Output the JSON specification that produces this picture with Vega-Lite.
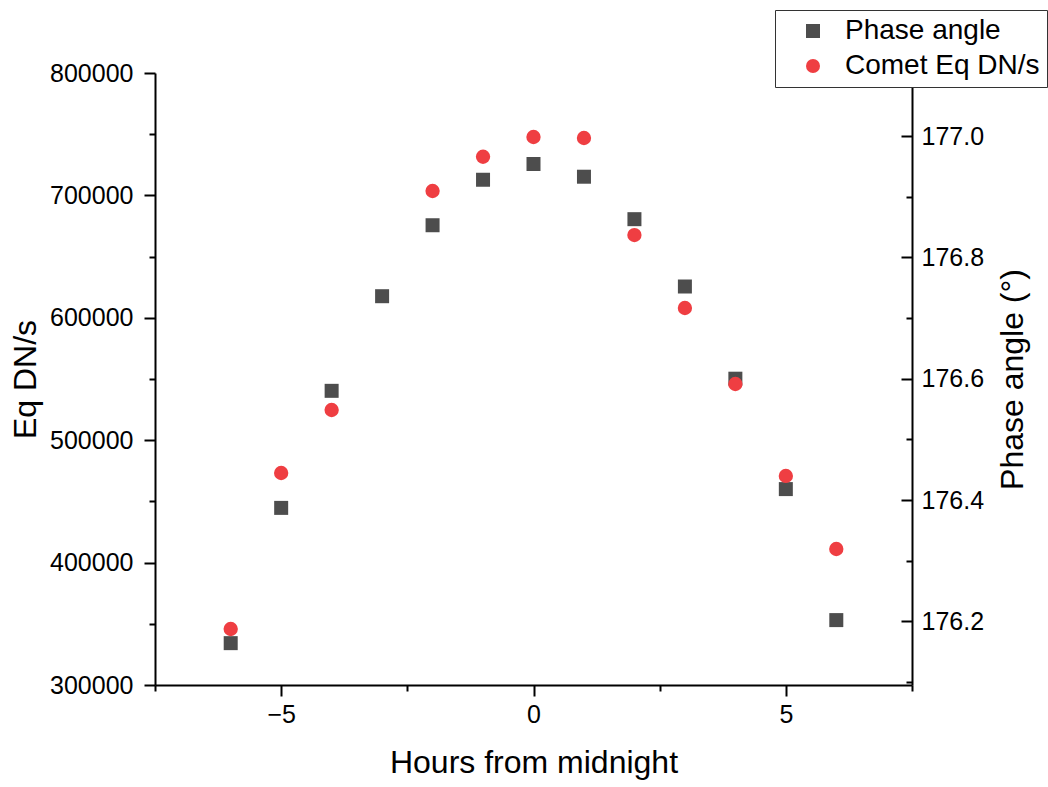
{
  "$schema": "https://vega.github.io/schema/vega-lite/v6.json",
  "width": 757,
  "height": 612,
  "autosize": {"type": "none"},
  "padding": {"left": 155, "top": 73, "right": 136, "bottom": 102},
  "background": "white",
  "config": {
    "view": {"stroke": null},
    "font": "Liberation Sans",
    "axis": {
      "grid": false,
      "domainColor": "black",
      "domainWidth": 2,
      "tickColor": "black",
      "tickWidth": 2,
      "labelColor": "black",
      "labelFont": "Liberation Sans",
      "labelFontSize": 25,
      "titleFont": "Liberation Sans",
      "titleFontSize": 32,
      "titleFontWeight": "normal",
      "titleColor": "black"
    }
  },
  "data": {
    "values": [
      {"hour": -6, "phase": 176.164, "eq": 345750},
      {"hour": -5, "phase": 176.387, "eq": 473200},
      {"hour": -4, "phase": 176.580, "eq": 524700},
      {"hour": -3, "phase": 176.736, "eq": null},
      {"hour": -2, "phase": 176.853, "eq": 703600},
      {"hour": -1, "phase": 176.928, "eq": 731600},
      {"hour": 0, "phase": 176.954, "eq": 747700},
      {"hour": 1, "phase": 176.933, "eq": 746900},
      {"hour": 2, "phase": 176.863, "eq": 667600},
      {"hour": 3, "phase": 176.752, "eq": 608000},
      {"hour": 4, "phase": 176.600, "eq": 545900},
      {"hour": 5, "phase": 176.418, "eq": 470800},
      {"hour": 6, "phase": 176.202, "eq": 411100}
    ]
  },
  "layer": [
    {
      "mark": {"type": "point", "shape": "square", "filled": true, "size": 196, "opacity": 1},
      "encoding": {
        "x": {
          "field": "hour", "type": "quantitative",
          "scale": {"domain": [-7.5, 7.5], "nice": false, "zero": false},
          "axis": {"orient": "bottom", "values": [-5, 0, 5], "tickSize": 11, "labelPadding": 6, "title": "Hours from midnight", "titlePadding": 20}
        },
        "y": {
          "field": "phase", "type": "quantitative",
          "scale": {"domain": [176.095, 177.104], "nice": false, "zero": false},
          "axis": {"orient": "right", "values": [176.2, 176.4, 176.6, 176.8, 177.0], "format": ".1f", "tickSize": -11, "labelPadding": 20, "title": "Phase angle (°)", "titleAngle": 270, "titlePadding": 46}
        },
        "color": {
          "datum": "Phase angle",
          "scale": {"domain": ["Phase angle", "Comet Eq DN/s"], "range": ["#4d4d4d", "#ef3e42"]},
          "legend": {
            "orient": "none", "legendX": 620, "legendY": -63, "title": null,
            "labelFontSize": 28, "labelFont": "Liberation Sans", "labelColor": "black", "labelLimit": 400,
            "symbolSize": 196, "padding": 7, "strokeColor": "#333333", "fillColor": "white",
            "rowPadding": 7, "symbolOffset": 17, "labelOffset": 18, "symbolStrokeWidth": 0
          }
        },
        "shape": {
          "datum": "Phase angle",
          "scale": {"domain": ["Phase angle", "Comet Eq DN/s"], "range": ["square", "circle"]},
          "legend": {
            "orient": "none", "legendX": 620, "legendY": -63, "title": null,
            "labelFontSize": 28, "labelFont": "Liberation Sans", "labelColor": "black", "labelLimit": 400,
            "symbolSize": 196, "padding": 7, "strokeColor": "#333333", "fillColor": "white",
            "rowPadding": 7, "symbolOffset": 17, "labelOffset": 18, "symbolStrokeWidth": 0
          }
        }
      }
    },
    {
      "mark": {"type": "point", "shape": "circle", "filled": true, "size": 205, "opacity": 1},
      "encoding": {
        "x": {"field": "hour", "type": "quantitative", "scale": {"domain": [-7.5, 7.5], "nice": false, "zero": false}, "axis": null},
        "y": {
          "field": "eq", "type": "quantitative",
          "scale": {"domain": [300000, 800000], "nice": false, "zero": false},
          "axis": {"orient": "left", "values": [300000, 400000, 500000, 600000, 700000, 800000], "format": "d", "tickSize": 11, "labelPadding": 11, "title": "Eq DN/s", "titlePadding": 7}
        },
        "color": {"datum": "Comet Eq DN/s"},
        "shape": {"datum": "Comet Eq DN/s"}
      }
    },
    {
      "mark": {"type": "point", "opacity": 0},
      "encoding": {
        "x": {
          "field": "hour", "type": "quantitative",
          "scale": {"domain": [-7.5, 7.5], "nice": false, "zero": false},
          "axis": {"orient": "bottom", "values": [-7.5, -2.5, 2.5, 7.5], "tickSize": 6, "labels": false, "domain": false, "title": null}
        },
        "y": {
          "field": "eq", "type": "quantitative",
          "scale": {"domain": [300000, 800000], "nice": false, "zero": false},
          "axis": {"orient": "left", "values": [350000, 450000, 550000, 650000, 750000], "tickSize": 6, "labels": false, "domain": false, "title": null}
        }
      }
    },
    {
      "mark": {"type": "point", "opacity": 0},
      "encoding": {
        "x": {"field": "hour", "type": "quantitative", "scale": {"domain": [-7.5, 7.5], "nice": false, "zero": false}, "axis": null},
        "y": {
          "field": "phase", "type": "quantitative",
          "scale": {"domain": [176.095, 177.104], "nice": false, "zero": false},
          "axis": {"orient": "right", "values": [176.1, 176.3, 176.5, 176.7, 176.9, 177.1], "tickSize": -6, "labels": false, "domain": false, "title": null}
        }
      }
    }
  ],
  "resolve": {
    "scale": {"y": "independent"},
    "axis": {"x": "independent", "y": "independent"}
  }
}
